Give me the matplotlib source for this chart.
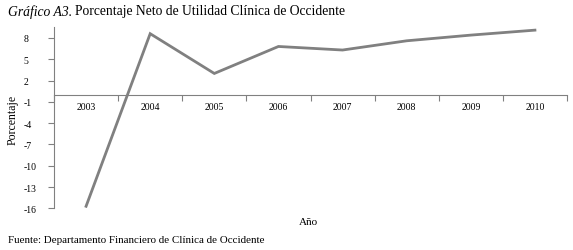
import matplotlib
matplotlib.use("Agg")
import matplotlib.pyplot as plt
import numpy as np

# data
years = ["2003", "2004", "2005", "2006", "2007", "2008", "2009", "2010"]
pct = [-15.7, 8.6, 3.0, 6.8, 6.3, 7.6, 8.4, 9.1]
ytick_vals = [8, 5, 2, -1, -4, -7, -10, -13, -16]

plt.rcParams['font.family'] = ['Liberation Serif', 'DejaVu Serif']

fig = plt.figure(figsize=(5.73, 2.51), dpi=100)
ax = fig.add_axes([54/573, 1 - 209.4/251, (567 - 54)/573, (209.4 - 28.3)/251])

x = np.arange(len(years))
ax.plot(x, pct, color="#808080", lw=2.0, solid_joinstyle="miter")

ax.set_xlim(-0.5, len(years) - 0.5)
ax.set_ylim(-16, 9.5)

for s in ["top", "right"]:
    ax.spines[s].set_visible(False)
ax.spines["bottom"].set_position(("data", 0))
for s in ["left", "bottom"]:
    ax.spines[s].set_color("#808080")
    ax.spines[s].set_linewidth(0.8)

ax.set_yticks(ytick_vals)
ax.set_yticklabels([str(v) for v in ytick_vals], fontsize=7)
ax.tick_params(axis="y", length=4, color="#808080", pad=18, width=0.8)
for lab in ax.get_yticklabels():
    lab.set_horizontalalignment("left")

# boundaries get tick marks, centres get labels
ax.set_xticks(np.arange(-0.5, len(years), 1.0))
ax.set_xticklabels([])
ax.set_xticks(x, minor=True)
ax.set_xticklabels(years, minor=True, fontsize=7)
ax.tick_params(axis="x", which="major", length=4, color="#808080", width=0.8)
ax.tick_params(axis="x", which="minor", length=0, pad=5)

fig.text(12.5/573, 1 - 120/251, "Porcentaje", rotation=90, fontsize=8.5,
         ha="center", va="center")
fig.text(308/573, 1 - 223/251, "Año", fontsize=8, ha="center", va="center")
fig.text(8/573, 1 - 241/251, "Fuente: Departamento Financiero de Clínica de Occidente",
         fontsize=7.9, ha="left", va="center")

t1 = fig.text(8/573, 1 - 12/251, "Gráfico A3.", fontsize=9.8, style="italic",
              ha="left", va="center")
fig.canvas.draw()
bb = t1.get_window_extent()
fig.text(bb.x1 / fig.bbox.width + 3/573, 1 - 12/251,
         "Porcentaje Neto de Utilidad Clínica de Occidente",
         fontsize=9.8, ha="left", va="center")

fig.savefig("out.png", dpi=100)
